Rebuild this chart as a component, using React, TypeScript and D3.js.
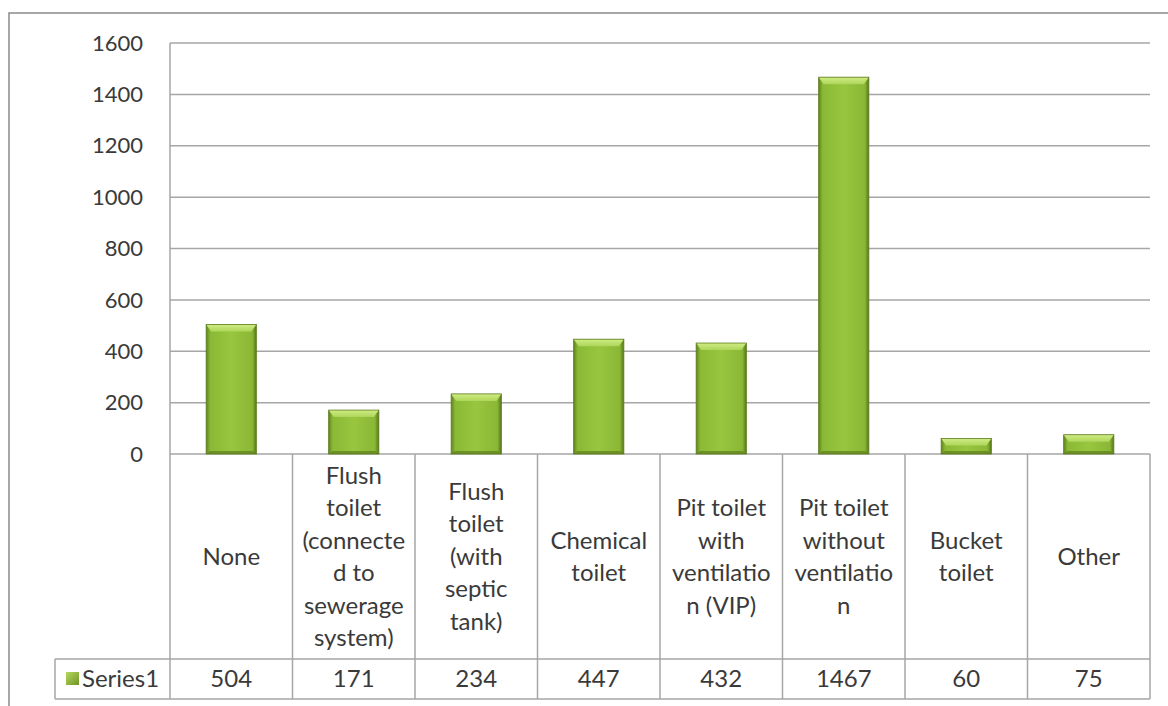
import React from "react";
import * as d3 from "d3";

// Toilet facility counts
const categories: string[][] = [
  ["None"],
  ["Flush", "toilet", "(connecte", "d to", "sewerage", "system)"],
  ["Flush", "toilet", "(with", "septic", "tank)"],
  ["Chemical", "toilet"],
  ["Pit toilet", "with", "ventilatio", "n (VIP)"],
  ["Pit toilet", "without", "ventilatio", "n"],
  ["Bucket", "toilet"],
  ["Other"],
];
const seriesName = "Series1";
const values: number[] = [504, 171, 234, 447, 432, 1467, 60, 75];
const yTicks: number[] = [0, 200, 400, 600, 800, 1000, 1200, 1400, 1600];

const W = 1168;
const H = 706;
const plotLeft = 170;
const plotRight = 1150;
const plotTop = 43;
const plotBottom = 454;
const tableLeft = 55;
const seriesRowTop = 659;
const tableBottom = 699;
const font = "Lato, 'Open Sans', sans-serif";
const fs = 24;
const textColor = "#3a3a3a";
const gridColor = "#a6a6a6";

export default function App() {
  const idx = categories.map((_, i) => String(i));
  const col = d3.scaleBand<string>().domain(idx).range([plotLeft, plotRight]).padding(0);
  const x = d3
    .scaleBand<string>()
    .domain(idx)
    .range([plotLeft, plotRight])
    .paddingInner(0.59)
    .paddingOuter(0.295);
  const y = d3.scaleLinear().domain([0, 1600]).range([plotBottom, plotTop]);

  const lineH = 32.5;
  const catMid = (plotBottom + seriesRowTop) / 2;

  return (
    <svg
      width={W}
      height={H}
      style={{ position: "absolute", left: 0, top: 0, background: "#fff" }}
      fontFamily={font}
    >
      <defs>
        <linearGradient id="barBody" x1="0" x2="1" y1="0" y2="0">
          <stop offset="0%" stopColor="#5f821c" />
          <stop offset="8%" stopColor="#8ab936" />
          <stop offset="50%" stopColor="#98c63f" />
          <stop offset="92%" stopColor="#8ab735" />
          <stop offset="100%" stopColor="#56761a" />
        </linearGradient>
        <linearGradient id="barTop" x1="0" x2="0" y1="0" y2="1">
          <stop offset="0%" stopColor="#d0ec84" />
          <stop offset="100%" stopColor="#add65a" />
        </linearGradient>
        <linearGradient id="keyFill" x1="0" x2="1" y1="0" y2="1">
          <stop offset="0%" stopColor="#b6d95d" />
          <stop offset="100%" stopColor="#6f9426" />
        </linearGradient>
      </defs>

      {/* chart frame */}
      <rect x={9} y={13} width={W} height={H} fill="none" stroke="#8a8a8a" strokeWidth={1.5} />

      {/* gridlines */}
      {yTicks.map((t) => (
        <line
          key={"g" + t}
          x1={plotLeft}
          x2={plotRight}
          y1={y(t)}
          y2={y(t)}
          stroke={gridColor}
          strokeWidth={1.5}
        />
      ))}
      <line x1={plotLeft} x2={plotLeft} y1={plotTop} y2={plotBottom} stroke={gridColor} strokeWidth={1.5} />

      {/* y tick labels */}
      {yTicks.map((t) => (
        <text
          key={"t" + t}
          x={143}
          y={y(t)}
          dy="0.35em"
          textAnchor="end"
          fontSize={22}
          fill={textColor}
        >
          {t}
        </text>
      ))}

      {/* bars */}
      {values.map((v, i) => {
        const bx = x(String(i))!;
        const bw = x.bandwidth();
        const by = y(v);
        const bh = plotBottom - by;
        const bev = Math.min(7, bh / 2);
        return (
          <g key={"b" + i}>
            <rect x={bx} y={by} width={bw} height={bh} fill="url(#barBody)" />
            <path
              d={`M${bx},${by} L${bx + bw},${by} L${bx + bw - 5},${by + bev} L${bx + 5},${by + bev} Z`}
              fill="url(#barTop)"
            />
            <path
              d={`M${bx},${plotBottom} L${bx + bw},${plotBottom} L${bx + bw - 4},${plotBottom - 3} L${bx + 4},${plotBottom - 3} Z`}
              fill="#5c7d1b"
              opacity={0.7}
            />
            <rect x={bx} y={by} width={bw} height={bh} fill="none" stroke="#5d7d20" strokeWidth={0.8} />
          </g>
        );
      })}

      {/* data table */}
      <g stroke={gridColor} strokeWidth={1.5} fill="none">
        <line x1={tableLeft} x2={plotRight} y1={seriesRowTop} y2={seriesRowTop} />
        <line x1={tableLeft} x2={plotRight} y1={tableBottom} y2={tableBottom} />
        <line x1={tableLeft} x2={tableLeft} y1={seriesRowTop} y2={tableBottom} />
        {idx.map((k) => (
          <line key={"c" + k} x1={col(k)!} x2={col(k)!} y1={plotBottom} y2={tableBottom} />
        ))}
        <line x1={plotRight} x2={plotRight} y1={plotBottom} y2={tableBottom} />
      </g>

      {categories.map((lines, i) => {
        const cx = col(String(i))! + col.bandwidth() / 2;
        const y0 = catMid - ((lines.length - 1) * lineH) / 2;
        return (
          <text key={"cat" + i} textAnchor="middle" fontSize={fs} fill={textColor}>
            {lines.map((ln, j) => (
              <tspan key={j} x={cx} y={y0 + j * lineH} dy="0.35em">
                {ln}
              </tspan>
            ))}
          </text>
        );
      })}

      {values.map((v, i) => (
        <text
          key={"v" + i}
          x={col(String(i))! + col.bandwidth() / 2}
          y={(seriesRowTop + tableBottom) / 2}
          dy="0.35em"
          textAnchor="middle"
          fontSize={fs}
          fill={textColor}
        >
          {v}
        </text>
      ))}

      {/* legend key in table */}
      <rect x={66} y={672} width={13} height={13} fill="url(#keyFill)" />
      <text x={82} y={(seriesRowTop + tableBottom) / 2} dy="0.35em" fontSize={fs} fill={textColor}>
        {seriesName}
      </text>
    </svg>
  );
}
